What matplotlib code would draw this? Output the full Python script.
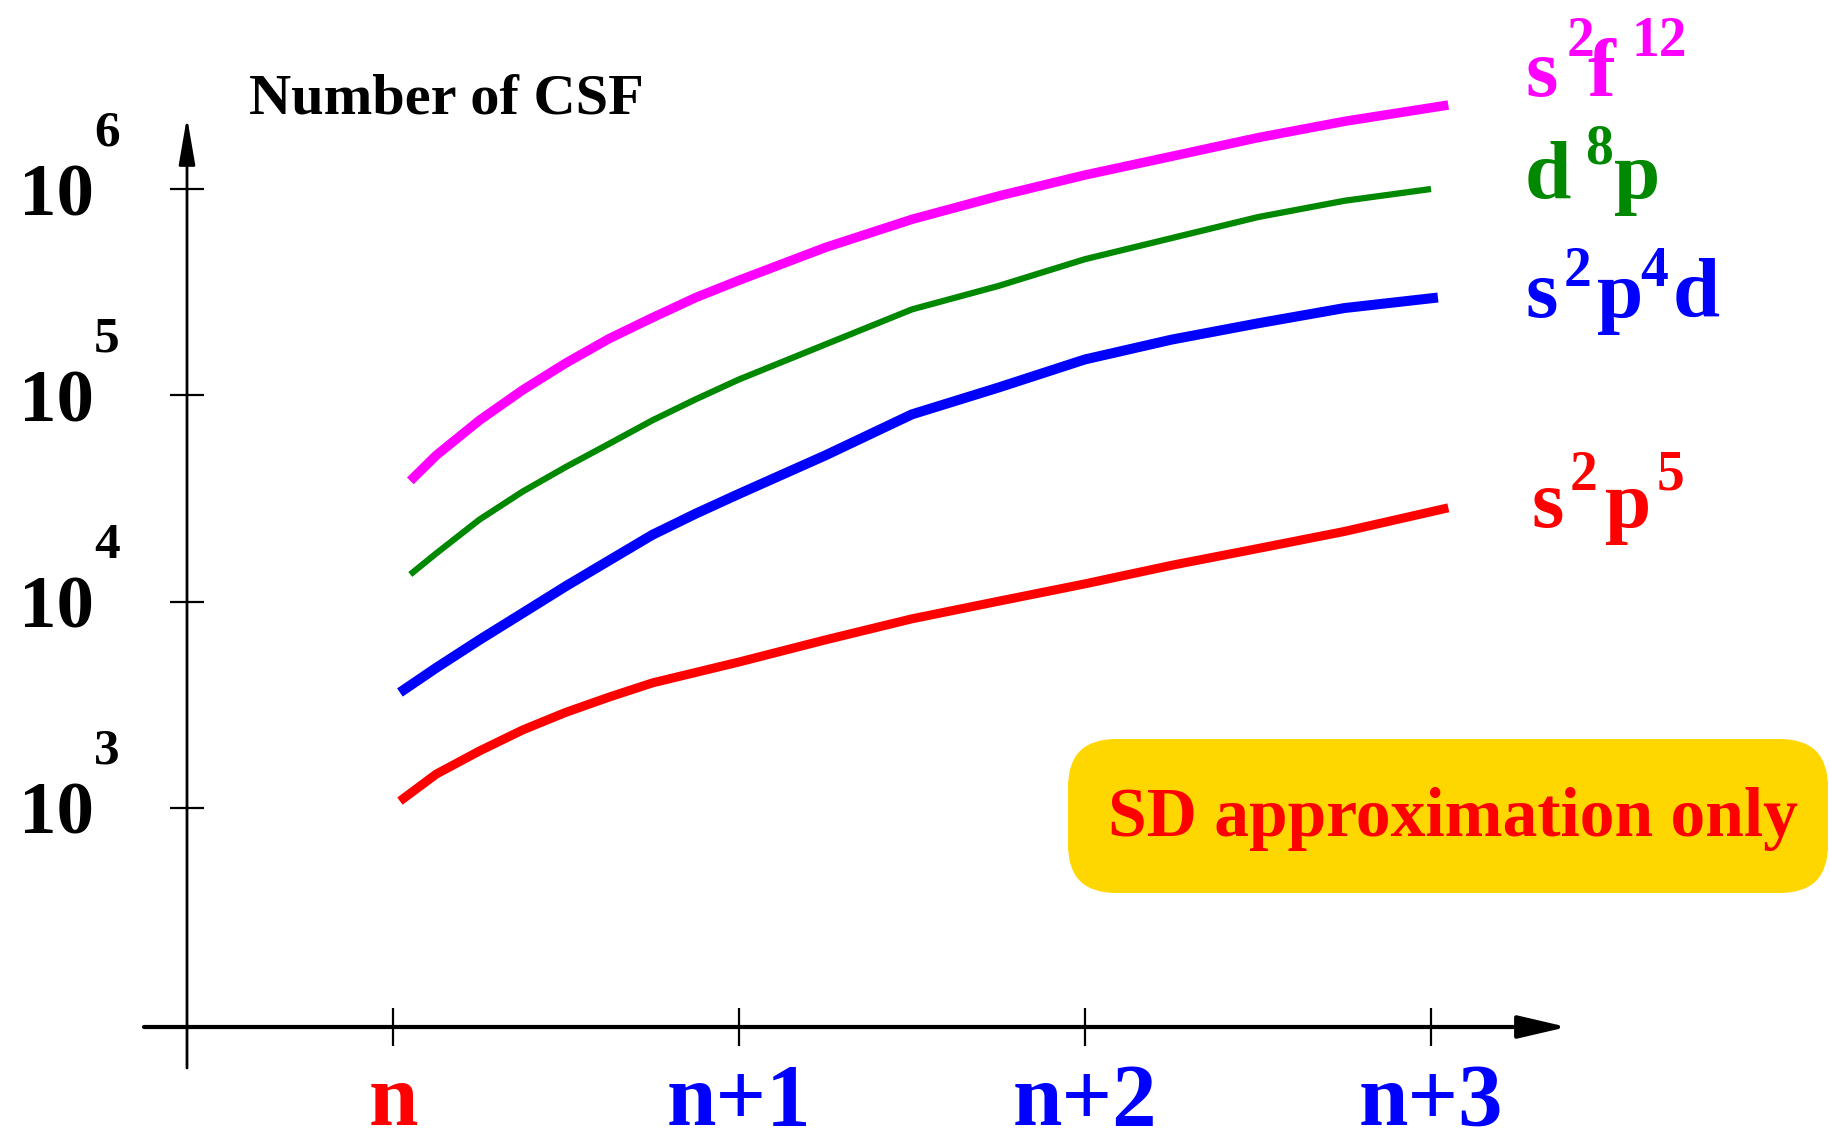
import matplotlib
matplotlib.use('Agg')
import matplotlib.pyplot as plt
from matplotlib.patches import FancyBboxPatch
from matplotlib.transforms import IdentityTransform

plt.rcParams['font.family'] = ['Liberation Serif', 'DejaVu Serif']
plt.rcParams['font.weight'] = 'bold'

# x axis: 0 = n, 1 = n+1, ...
x_labels = ['n', 'n+1', 'n+2', 'n+3']
x_label_colors = ['#ff0000', '#0000ff', '#0000ff', '#0000ff']
y_exponents = [3, 4, 5, 6]

# number of CSF
s2f12_x = [0.05, 0.125, 0.25, 0.375, 0.5, 0.625, 0.75, 0.875, 1.0,
           1.25, 1.5, 1.75, 2.0, 2.25, 2.5, 2.75, 3.05]
s2f12_csf = [38500, 51200, 75700, 106200, 143500, 188400, 238000, 297900, 361000,
             521000, 713000, 925000, 1169000, 1439000, 1774000, 2128000, 2553000]

d8p_x = [0.05, 0.125, 0.25, 0.375, 0.5, 0.625, 0.75, 0.875, 1.0,
         1.25, 1.5, 1.75, 2.0, 2.25, 2.5, 2.75, 3.0]
d8p_csf = [13550, 17140, 25000, 34200, 45000, 58300, 75700, 95700, 119400,
           176600, 261000, 339000, 457000, 578000, 731000, 877000, 1000000]

s2p4d_x = [0.02, 0.125, 0.25, 0.375, 0.5, 0.625, 0.75, 0.875, 1.0,
           1.25, 1.5, 1.75, 2.0, 2.25, 2.5, 2.75, 3.02]
s2p4d_csf = [3630, 4780, 6530, 8810, 11900, 15850, 21100, 26700, 33300,
             51200, 80900, 109100, 149300, 186200, 223400, 264900, 297900]

s2p5_x = [0.02, 0.125, 0.25, 0.375, 0.5, 0.625, 0.75, 0.875, 1.0,
          1.25, 1.5, 1.75, 2.0, 2.25, 2.5, 2.75, 3.05]
s2p5_csf = [1080, 1460, 1890, 2390, 2910, 3450, 4040, 4540, 5100,
            6530, 8260, 10050, 12200, 15000, 18100, 21900, 28500]

W, H = 1830, 1132
X0_PX, X_STEP = 393, 346       # pixel column of n, pixels per step
Y3_PX, DEC_PX = 808, 206.33    # pixel row of 10^3, pixels per decade


def xd(px):
    return (px - X0_PX) / X_STEP


def yd(py):
    return 10 ** (3 + (Y3_PX - py) / DEC_PX)


fig = plt.figure(figsize=(W / 100, H / 100), dpi=100)
ax = fig.add_axes([0, 0, 1, 1])
ax.patch.set_visible(False)
ax.set_yscale('log')

series = [
    (s2f12_x, s2f12_csf, '#ff00ff', 6.8),
    (d8p_x, d8p_csf, '#008800', 4.5),
    (s2p4d_x, s2p4d_csf, '#0000ff', 7.2),
    (s2p5_x, s2p5_csf, '#ff0000', 6.5),
]
for xs, ys, c, lw in series:
    ax.plot(xs, ys, color=c, lw=lw, solid_joinstyle='round', solid_capstyle='butt', zorder=3)

# axes with arrows
ax.annotate('', xy=(xd(187), yd(117)), xytext=(xd(187), yd(1068)),
            arrowprops=dict(arrowstyle='-|>,head_length=2.9,head_width=0.5', lw=2,
                            color='black', shrinkA=0, shrinkB=0, mutation_scale=10))
ax.annotate('', xy=(xd(1567), yd(1027)), xytext=(xd(144), yd(1027)),
            arrowprops=dict(arrowstyle='-|>,head_length=3.0,head_width=0.7', lw=3,
                            color='black', shrinkA=0, shrinkB=0, mutation_scale=10))

ax.spines['left'].set_position(('data', xd(187)))
ax.spines['bottom'].set_position(('data', yd(1027)))
for s in ax.spines.values():
    s.set_visible(False)

ax.set_xticks(range(len(x_labels)), x_labels, va='baseline', fontsize=64)
for lbl, c in zip(ax.get_xticklabels(), x_label_colors):
    lbl.set_color(c)
ax.tick_params(axis='x', direction='inout', length=27, width=1.6, pad=57.0)

ax.set_yticks([10.0 ** k for k in y_exponents], ['10'] * len(y_exponents), fontsize=54)
ax.yaxis.set_minor_locator(plt.NullLocator())
ax.tick_params(axis='y', direction='inout', length=24.5, width=1.6, pad=54.7)
for k in y_exponents:
    ax.annotate(str(k), xy=(xd(187), 10.0 ** k), xytext=(-93, 44), textcoords='offset pixels',
                fontsize=37, ha='left', va='baseline')

ax.annotate('Number of CSF', xy=(249, H - 113), xycoords='figure pixels',
            fontsize=42, va='baseline')

# curve labels: (text, left px, baseline px, size, colour)
pieces = [
    ('s', 1525, 96, 60, '#ff00ff'), ('2', 1567, 56, 40, '#ff00ff'),
    ('f', 1587, 96, 60, '#ff00ff'), ('12', 1632, 56, 40, '#ff00ff'),
    ('d', 1525, 198, 60, '#008800'), ('8', 1585, 163, 40, '#008800'),
    ('p', 1614, 198, 60, '#008800'),
    ('s', 1525, 317, 60, '#0000ff'), ('2', 1564, 286, 40, '#0000ff'),
    ('p', 1597, 317, 60, '#0000ff'), ('4', 1640, 286, 40, '#0000ff'),
    ('d', 1673, 317, 61, '#0000ff'),
    ('s', 1532, 527, 60, '#ff0000'), ('2', 1570, 490, 40, '#ff0000'),
    ('p', 1605, 527, 60, '#ff0000'), ('5', 1657, 490, 40, '#ff0000'),
]
for txt, px, py, fs, c in pieces:
    ax.annotate(txt, xy=(px, H - py), xycoords='figure pixels', fontsize=fs,
                color=c, va='baseline', ha='left')

box = FancyBboxPatch((1068, H - 893), 760, 154, boxstyle='round,pad=0,rounding_size=48',
                     transform=IdentityTransform(), fc='#ffd700', ec='none', zorder=4)
ax.add_patch(box)
ax.annotate('SD approximation only', xy=(1453, H - 836), xycoords='figure pixels',
            fontsize=50, color='#ff0000', ha='center', va='baseline', zorder=5)

ax.set_xlim(xd(0), xd(W))
ax.set_ylim(yd(H), yd(0))

fig.savefig('out.png', dpi=100)
